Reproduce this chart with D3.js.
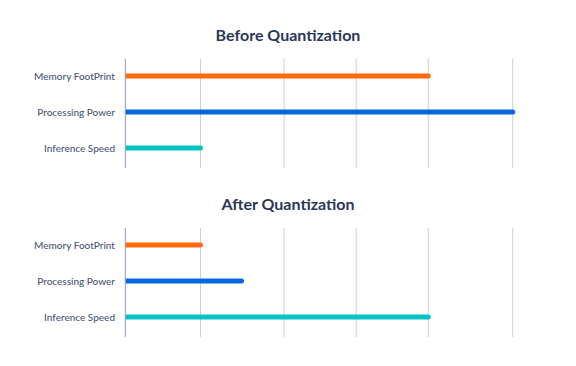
<!DOCTYPE html>
<html><head><meta charset="utf-8">
<script src="https://cdn.jsdelivr.net/npm/d3@7"></script>
<style>html,body{margin:0;padding:0;background:#fff;}</style>
</head><body>
<svg id="chart" width="576" height="366"></svg>
<script>
const categories = ["Memory FootPrint", "Processing Power", "Inference Speed"];
const panelTitles = ["Before Quantization", "After Quantization"];
const beforeValues = [78.2, 100, 19.4];
const afterValues = [19.4, 30, 78.2];
const gridValues = [19.4, 41, 59.6, 78.2, 100];
const colors = ["#ff6a0f", "#0767e3", "#06c4c6"];

const svg = d3.select("#chart");
const x = d3.scaleLinear().domain([0, 100]).range([125.3, 512.7]);
const font = "Lato, 'Open Sans', sans-serif";

const panels = [
  {title: panelTitles[0], values: beforeValues, top: 59, titleY: 41},
  {title: panelTitles[1], values: afterValues, top: 228, titleY: 210}
];

panels.forEach(p => {
  const g = svg.append("g");
  const bottom = p.top + 109;
  const y = d3.scalePoint().domain(categories).range([p.top + 17, bottom - 20]);

  g.append("text").attr("x", 288).attr("y", p.titleY)
    .attr("text-anchor", "middle").attr("font-family", font)
    .attr("font-weight", 700).attr("font-size", 16).attr("fill", "#2a3858")
    .text(p.title);

  g.selectAll("line.grid").data(gridValues).enter().append("line")
    .attr("x1", d => x(d)).attr("x2", d => x(d))
    .attr("y1", p.top).attr("y2", bottom)
    .attr("stroke", "#c3cfe2").attr("stroke-width", 1);

  const h = 5;
  g.selectAll("path.bar").data(p.values).enter().append("path")
    .attr("d", (d, i) => {
      const cy = y(categories[i]);
      const x0 = x(0), xe = x(d);
      return `M${x0},${cy - h/2}H${xe}A${h/2},${h/2} 0 0 1 ${xe},${cy + h/2}H${x0}Z`;
    })
    .attr("fill", (d, i) => colors[i]);

  g.append("line").attr("x1", x(0)).attr("x2", x(0))
    .attr("y1", p.top).attr("y2", bottom)
    .attr("stroke", "#8e9bb5").attr("stroke-width", 1);

  g.selectAll("text.label").data(categories).enter().append("text")
    .attr("x", 115).attr("y", d => y(d)).attr("dy", "0.35em")
    .attr("text-anchor", "end").attr("font-family", font)
    .attr("font-size", 10).attr("font-weight", 500).attr("fill", "#4b5674")
    .text(d => d);
});
</script>
</body></html>
